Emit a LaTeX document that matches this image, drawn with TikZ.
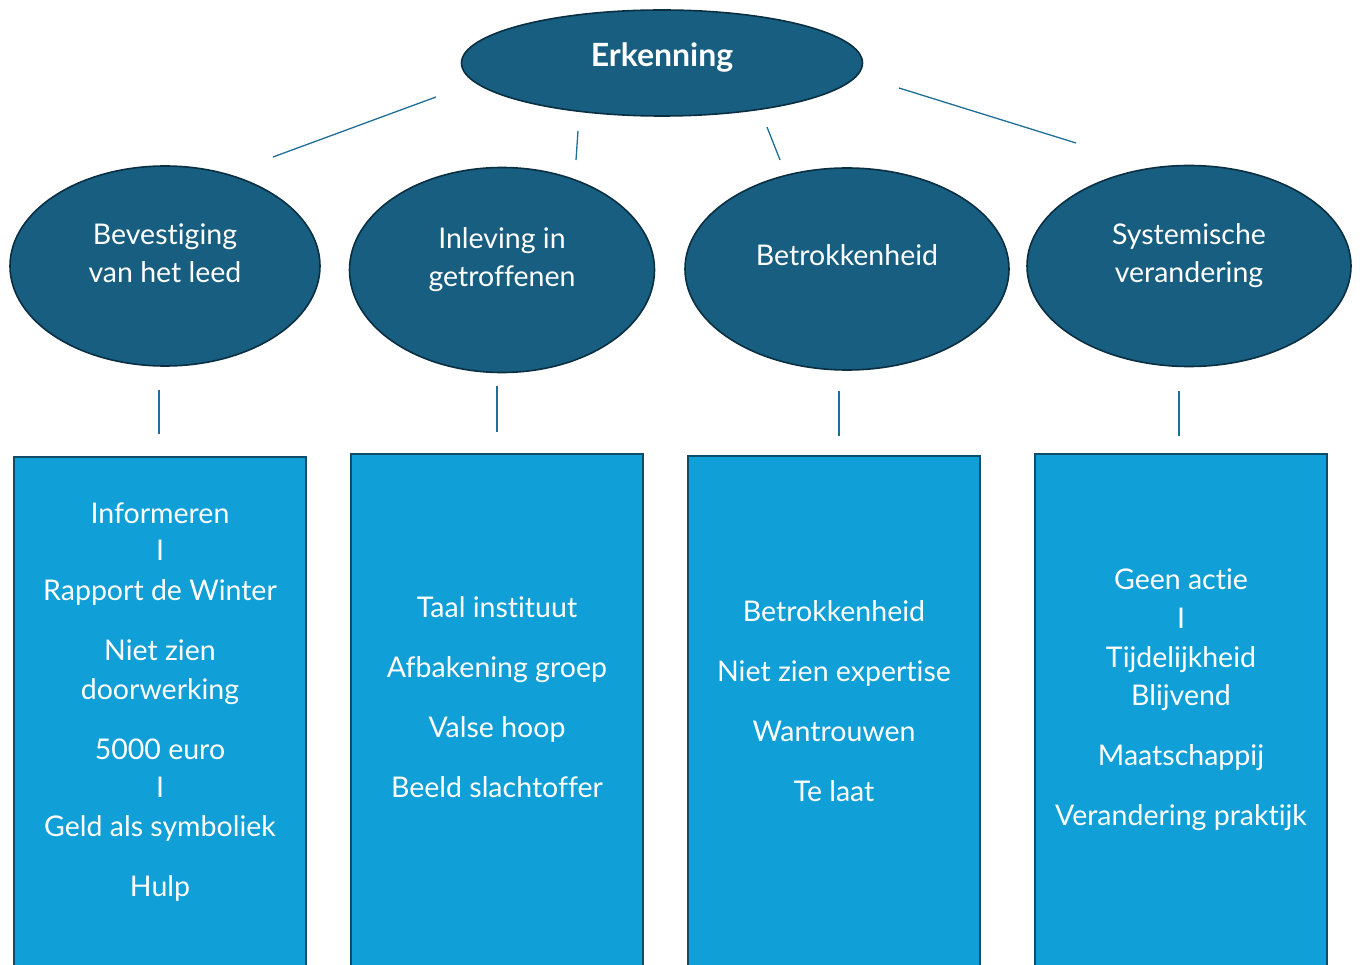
\documentclass[tikz,border=0pt]{standalone}
\usepackage{fontspec}
\setmainfont[Ligatures=NoCommon]{Lato}
\usetikzlibrary{shapes.geometric}
\definecolor{darkfill}{HTML}{175E80}
\definecolor{darkedge}{HTML}{0B2F42}
\definecolor{boxfill}{HTML}{109FD6}
\definecolor{boxedge}{HTML}{0E4C6A}
\definecolor{linkcol}{HTML}{1F6E98}
\tikzset{
  oval/.style={ellipse, draw=darkedge, line width=1.6pt, fill=darkfill, inner sep=0pt},
  colbox/.style={draw=boxedge, line width=2pt, fill=boxfill},
  txt/.style={text=white, font=\fontsize{28.5}{34}\selectfont, anchor=base, inner sep=0pt},
  link/.style={draw=linkcol, line width=1.3pt}
}
\begin{document}
\begin{tikzpicture}[x=1pt,y=-1pt]
\useasboundingbox (0,0) rectangle (1360,965);
\clip (0,0) rectangle (1360,965);
% top ellipse
\node[oval, minimum width=401pt, minimum height=106pt] (top) at (662,63) {};
\node[txt, font=\fontsize{32}{36}\selectfont\bfseries] (toptxt) at (662,67) {Erkenning};
% second row ellipses
\node[oval, minimum width=310pt, minimum height=200pt] (e1) at (165,266) {};
\node[oval, minimum width=305pt, minimum height=205pt] (e2) at (502,270) {};
\node[oval, minimum width=324pt, minimum height=202pt] (e3) at (847,269) {};
\node[oval, minimum width=324pt, minimum height=201pt] (e4) at (1189,266) {};
\node[txt] (e1a) at (165,245) {Bevestiging};
\node[txt] (e1b) at (165,283) {van het leed};
\node[txt] (e2a) at (502,249) {Inleving in};
\node[txt] (e2b) at (502,287) {getroffenen};
\node[txt] (e3a) at (847,266) {Betrokkenheid};
\node[txt] (e4a) at (1189,245) {Systemische};
\node[txt] (e4b) at (1189,283) {verandering};
% connector segments
\coordinate (a1) at (436,97);  \coordinate (b1) at (273,157);
\coordinate (a2) at (578,131); \coordinate (b2) at (576,160);
\coordinate (a3) at (767,127); \coordinate (b3) at (780,160);
\coordinate (a4) at (899,88);  \coordinate (b4) at (1076,143);
\draw[link] (a1) -- (b1);
\draw[link] (a2) -- (b2);
\draw[link] (a3) -- (b3);
\draw[link] (a4) -- (b4);
\coordinate (c1) at (159,390); \coordinate (d1) at (159,434);
\coordinate (c2) at (497,386); \coordinate (d2) at (497,432);
\coordinate (c3) at (839,391); \coordinate (d3) at (839,436);
\coordinate (c4) at (1179,391); \coordinate (d4) at (1179,436);
\draw[link] (c1) -- (d1);
\draw[link] (c2) -- (d2);
\draw[link] (c3) -- (d3);
\draw[link] (c4) -- (d4);
% boxes
\path[colbox] (14,457) rectangle (306,980);
\path[colbox] (351,454) rectangle (643,980);
\path[colbox] (688,456) rectangle (980,980);
\path[colbox] (1035,454) rectangle (1327,980);
% box 1 text
\node[txt] (b1l1) at (160,523) {Informeren};
\node[txt] (b1l2) at (160,560) {I};
\node[txt] (b1l3) at (160,600) {Rapport de Winter};
\node[txt] (b1l4) at (160,660) {Niet zien};
\node[txt] (b1l5) at (160,699) {doorwerking};
\node[txt] (b1l6) at (160,759) {5000 euro};
\node[txt] (b1l7) at (160,797) {I};
\node[txt] (b1l8) at (160,836) {Geld als symboliek};
\node[txt] (b1l9) at (160,896) {Hulp};
% box 2 text
\node[txt] (b2l1) at (497,617) {Taal instituut};
\node[txt] (b2l2) at (497,677) {Afbakening groep};
\node[txt] (b2l3) at (497,737) {Valse hoop};
\node[txt] (b2l4) at (497,797) {Beeld slachtoffer};
% box 3 text
\node[txt] (b3l1) at (834,621) {Betrokkenheid};
\node[txt] (b3l2) at (834,681) {Niet zien expertise};
\node[txt] (b3l3) at (834,741) {Wantrouwen};
\node[txt] (b3l4) at (834,801) {Te laat};
% box 4 text
\node[txt] (b4l1) at (1181,589) {Geen actie};
\node[txt] (b4l2) at (1181,628) {I};
\node[txt] (b4l3) at (1181,667) {Tijdelijkheid};
\node[txt] (b4l4) at (1181,705) {Blijvend};
\node[txt] (b4l5) at (1181,765) {Maatschappij};
\node[txt] (b4l6) at (1181,825) {Verandering praktijk};
\end{tikzpicture}
\end{document}
